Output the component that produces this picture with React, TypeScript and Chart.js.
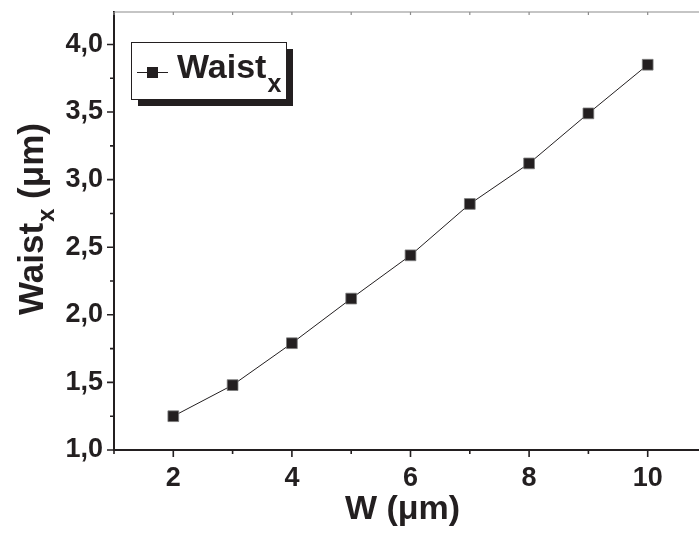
import React, { useEffect, useRef } from "react";
import { Chart, registerables } from "chart.js";

Chart.register(...registerables);

// ---- data ----
const widthsUm = [2, 3, 4, 5, 6, 7, 8, 9, 10];
const waistX = [1.25, 1.48, 1.79, 2.12, 2.44, 2.82, 3.12, 3.49, 3.85];
const xMajorTicks = [2, 4, 6, 8, 10];
const xMinorTicks = [1, 3, 5, 7, 9, 11];
const yMajorTicks = [1.0, 1.5, 2.0, 2.5, 3.0, 3.5, 4.0];
const yMinorTicks = [1.25, 1.75, 2.25, 2.75, 3.25, 3.75];
const seriesName = "Waist";
const seriesSub = "x";
const xTitle = "W (\u03bcm)";
const yTitleMain = "Waist";
const yTitleSub = "x";
const yTitleRest = " (\u03bcm)";

const INK = "#231f20";
const FONT = "'Liberation Sans', Arial, Helvetica, sans-serif";

export default function App() {
  const ref = useRef<HTMLCanvasElement>(null);

  useEffect(() => {
    const canvas = ref.current;
    if (!canvas) return;

    const decor = {
      id: "decor",
      afterDraw(chart: any) {
        const ctx = chart.ctx as CanvasRenderingContext2D;
        const { left, right, top, bottom } = chart.chartArea;
        const xs = chart.scales.x;
        const ys = chart.scales.y;
        ctx.save();

        // top frame line
        ctx.strokeStyle = "#8c8c8c";
        ctx.lineWidth = 1.2;
        ctx.beginPath();
        ctx.moveTo(left, top);
        ctx.lineTo(right, top);
        ctx.stroke();
        // top inward ticks
        ctx.beginPath();
        [...xMajorTicks, ...xMinorTicks].forEach((v) => {
          const px = xs.getPixelForValue(v);
          ctx.moveTo(px, top);
          ctx.lineTo(px, top + 3);
        });
        ctx.stroke();

        // axis ticks
        ctx.strokeStyle = INK;
        ctx.lineWidth = 1.6;
        ctx.beginPath();
        yMajorTicks.forEach((v) => {
          const py = ys.getPixelForValue(v);
          ctx.moveTo(left, py);
          ctx.lineTo(left - 7, py);
        });
        yMinorTicks.forEach((v) => {
          const py = ys.getPixelForValue(v);
          ctx.moveTo(left, py);
          ctx.lineTo(left - 4, py);
        });
        xMajorTicks.forEach((v) => {
          const px = xs.getPixelForValue(v);
          ctx.moveTo(px, bottom);
          ctx.lineTo(px, bottom + 7);
        });
        xMinorTicks.forEach((v) => {
          const px = xs.getPixelForValue(v);
          ctx.moveTo(px, bottom);
          ctx.lineTo(px, bottom + 4);
        });
        ctx.stroke();

        // x title
        ctx.fillStyle = INK;
        ctx.font = `bold 34px ${FONT}`;
        ctx.textAlign = "center";
        ctx.textBaseline = "alphabetic";
        ctx.fillText(xTitle, (xs.getPixelForValue(5) + xs.getPixelForValue(7)) / 2 - 8, 519);

        // y title (rotated, with subscript)
        ctx.save();
        ctx.translate(43, 315);
        ctx.rotate(-Math.PI / 2);
        ctx.textAlign = "left";
        ctx.font = `bold 35px ${FONT}`;
        ctx.fillText(yTitleMain, 0, 0);
        let w = ctx.measureText(yTitleMain).width;
        ctx.font = `bold 24px ${FONT}`;
        ctx.fillText(yTitleSub, w + 1, 11);
        w += ctx.measureText(yTitleSub).width + 1;
        ctx.font = `bold 35px ${FONT}`;
        ctx.fillText(yTitleRest, w, 0);
        ctx.restore();

        // legend box with shadow
        const bx = 131, by = 42, bw = 155, bh = 57;
        ctx.fillStyle = INK;
        ctx.fillRect(bx + 7, by + 7, bw, bh);
        ctx.fillStyle = "#ffffff";
        ctx.fillRect(bx, by, bw, bh);
        ctx.strokeStyle = INK;
        ctx.lineWidth = 1;
        ctx.strokeRect(bx + 0.5, by + 0.5, bw, bh);
        // legend sample
        ctx.lineWidth = 1;
        ctx.beginPath();
        ctx.moveTo(137, 72.5);
        ctx.lineTo(168, 72.5);
        ctx.stroke();
        ctx.fillStyle = INK;
        ctx.fillRect(147, 67, 11, 11);
        ctx.font = `bold 34px ${FONT}`;
        ctx.textAlign = "left";
        ctx.fillText(seriesName, 177, 78);
        const lw = ctx.measureText(seriesName).width;
        ctx.font = `bold 25px ${FONT}`;
        ctx.fillText(seriesSub, 177 + lw + 1, 92);

        ctx.restore();
      },
    };

    const chart = new Chart(canvas, {
      type: "line",
      data: {
        datasets: [
          {
            label: seriesName + "_" + seriesSub,
            data: widthsUm.map((x, i) => ({ x, y: waistX[i] })),
            borderColor: INK,
            borderWidth: 1,
            backgroundColor: INK,
            pointStyle: "rect",
            pointRadius: 7.6,
            pointBorderColor: "#7a7a7a",
            pointBorderWidth: 0.8,
            pointBackgroundColor: INK,
            tension: 0,
          },
        ],
      },
      options: {
        responsive: false,
        animation: false,
        layout: { padding: { top: 12, right: 13, left: 0, bottom: 0 } },
        plugins: {
          legend: { display: false },
          tooltip: { enabled: false },
        },
        scales: {
          x: {
            type: "linear",
            min: 1,
            max: 11,
            afterFit: (s: any) => {
              s.height = 84;
              s.paddingLeft = 0;
              s.paddingRight = 0;
            },
            afterBuildTicks: (s: any) => {
              s.ticks = xMajorTicks.map((v) => ({ value: v }));
            },
            ticks: {
              color: INK,
              font: { family: FONT, size: 27, weight: "bold" },
              padding: 5,
              maxRotation: 0,
              autoSkip: false,
              callback: (v: any) => String(v),
            },
            grid: { display: true, drawOnChartArea: false, tickLength: 7, tickColor: "rgba(0,0,0,0)" },
            border: { display: true, color: INK, width: 2 },
          },
          y: {
            type: "linear",
            min: 1,
            max: 4.24,
            afterFit: (s: any) => {
              s.width = 114;
              s.paddingTop = 0;
              s.paddingBottom = 0;
            },
            afterBuildTicks: (s: any) => {
              s.ticks = yMajorTicks.map((v) => ({ value: v }));
            },
            ticks: {
              color: INK,
              font: { family: FONT, size: 27, weight: "bold" },
              padding: 4,
              autoSkip: false,
              callback: (v: any) => Number(v).toFixed(1).replace(".", ","),
            },
            grid: { display: true, drawOnChartArea: false, tickLength: 7, tickColor: "rgba(0,0,0,0)" },
            border: { display: true, color: INK, width: 2 },
          },
        },
      },
      plugins: [decor],
    });

    return () => chart.destroy();
  }, []);

  return (
    <div
      style={{
        position: "fixed",
        left: 0,
        top: 0,
        width: 699,
        height: 534,
        overflow: "hidden",
        background: "#ffffff",
      }}
    >
      <canvas ref={ref} width={720} height={534} style={{ display: "block", width: 720, height: 534 }} />
    </div>
  );
}
